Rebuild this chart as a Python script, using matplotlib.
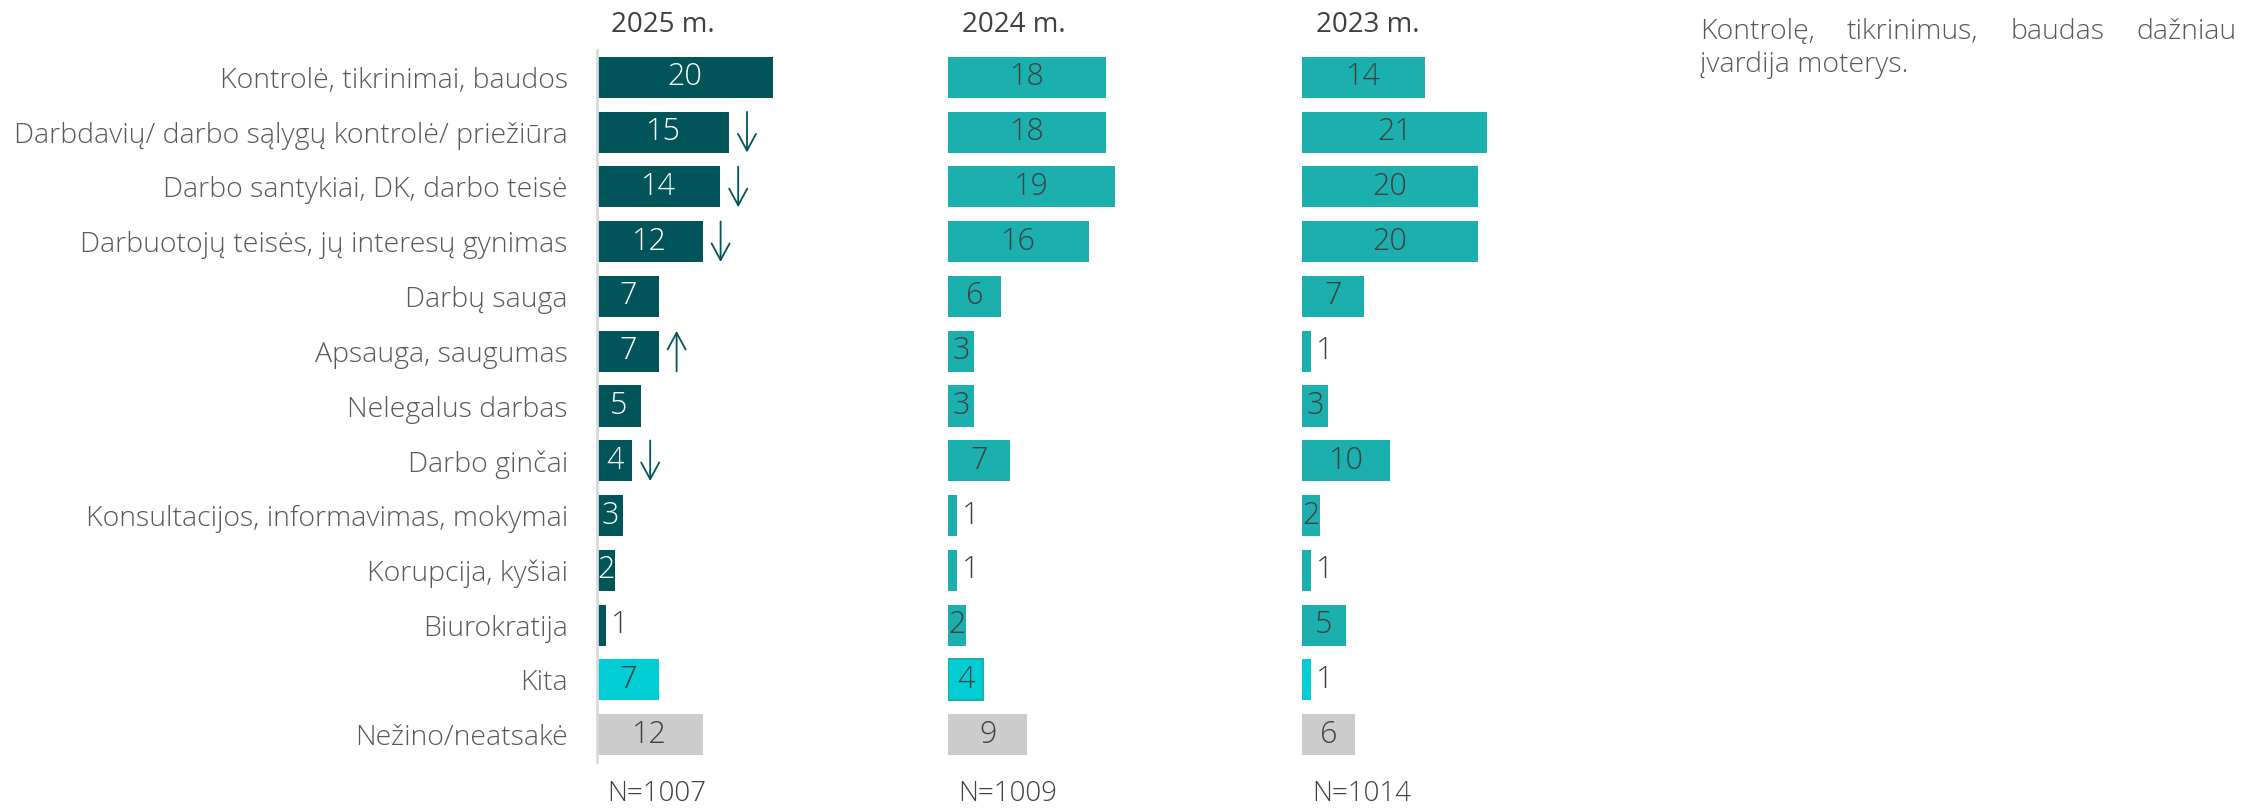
import matplotlib
matplotlib.use("Agg")
import matplotlib.pyplot as plt
import matplotlib.transforms as mtransforms
from matplotlib import font_manager as fm

categories = [
    "Kontrolė, tikrinimai, baudos",
    "Darbdavių/ darbo sąlygų kontrolė/ priežiūra",
    "Darbo santykiai, DK, darbo teisė",
    "Darbuotojų teisės, jų interesų gynimas",
    "Darbų sauga",
    "Apsauga, saugumas",
    "Nelegalus darbas",
    "Darbo ginčai",
    "Konsultacijos, informavimas, mokymai",
    "Korupcija, kyšiai",
    "Biurokratija",
    "Kita",
    "Nežino/neatsakė",
]
years = ["2025 m.", "2024 m.", "2023 m."]
sample_sizes = ["N=1007", "N=1009", "N=1014"]
values_2025 = [20, 15, 14, 12, 7, 7, 5, 4, 3, 2, 1, 7, 12]
values_2024 = [18, 18, 19, 16, 6, 3, 3, 7, 1, 1, 2, 4, 9]
values_2023 = [14, 21, 20, 20, 7, 1, 3, 10, 2, 1, 5, 1, 6]
trend_2025 = [None, "down", "down", "down", None, "up", None, "down", None, None, None, None, None]
note_line1 = ["Kontrolę,", "tikrinimus,", "baudas", "dažniau"]
note_line2 = "įvardija moterys."


def pick_font():
    prefs = ["Open Sans", "Lato", "Noto Sans", "Roboto", "Inter"]
    names = {}
    for f in fm.fontManager.ttflist:
        names.setdefault(f.name, []).append(f.weight)
    for p in prefs:
        for w in names.get(p, []):
            if (isinstance(w, int) and w <= 300) or w in ("light", "extra light", "ultralight"):
                return p, "light"
    return "Open Sans", "normal"


FONT, WEIGHT = pick_font()
plt.rcParams["font.family"] = [FONT, "DejaVu Sans"]
plt.rcParams["font.weight"] = WEIGHT

W, H = 2244, 809
DPI = 100
fig = plt.figure(figsize=(W / DPI, H / DPI), dpi=DPI)

PX_PER_UNIT = 8.8
top_px, bot_px = 50, 762
panel_left = [597, 948, 1302]
panel_w = 320

dark = "#00545A"
teal = "#1BB0AE"
cyan = "#00CED4"
grey = "#CCCCCC"
text_dark = "#404040"
label_col = "#595959"

LABEL_FS = 20.5
VALUE_FS = 22

series = [values_2025, values_2024, values_2023]
n = len(categories)
axes = []
for k, vals in enumerate(series):
    ax = fig.add_axes([panel_left[k] / W, (H - bot_px) / H, panel_w / W, (bot_px - top_px) / H])
    ax.set_xlim(0, panel_w / PX_PER_UNIT)
    ax.set_ylim(n - 0.5, -0.5)
    base = dark if k == 0 else teal
    cols = [base] * (n - 2) + [cyan, grey]
    edges = ["none"] * (n - 2) + ([teal] if k == 1 else ["none"]) + ["none"]
    ys = list(range(n))
    ax.barh(ys, vals, height=0.75, color=cols, edgecolor=edges, linewidth=1.5 if k == 1 else 0)
    for i, v in enumerate(vals):
        if v >= 2:
            tc = "white" if cols[i] == dark else text_dark
            ax.text(v / 2, i, str(v), ha="center", va="center", fontsize=VALUE_FS, color=tc)
        else:
            ax.annotate(str(v), (v, i), xytext=(4, 0), textcoords="offset points",
                        ha="left", va="center", fontsize=VALUE_FS, color=text_dark)
    for s in ax.spines.values():
        s.set_visible(False)
    ax.set_xticks([])
    if k == 0:
        ax.spines["left"].set_visible(True)
        ax.spines["left"].set_color("#D9D9D9")
        ax.spines["left"].set_linewidth(2)
        ax.set_yticks(ys)
        ax.set_yticklabels(categories, fontsize=LABEL_FS, color=label_col)
        ax.tick_params(axis="y", length=0, pad=21)
        off = ax.transData + mtransforms.ScaledTranslation(18 / DPI, 0, fig.dpi_scale_trans)
        for i, t in enumerate(trend_2025):
            if t is None:
                continue
            x = vals[i]
            y0, y1 = (i - 0.37, i + 0.37) if t == "down" else (i + 0.37, i - 0.37)
            ax.annotate("", xy=(x, y1), xytext=(x, y0), xycoords=off, textcoords=off,
                        arrowprops=dict(arrowstyle="->,head_length=1.2,head_width=0.65",
                                        color=dark, lw=1.3, shrinkA=0, shrinkB=0))
    else:
        ax.set_yticks([])
    axes.append(ax)

for k in range(3):
    fig.text((panel_left[k] + 14) / W, 1 - 25 / H, years[k], ha="left", va="center",
             fontsize=20, color=text_dark, fontweight="normal")
    fig.text((panel_left[k] + 10) / W, 1 - 794 / H, sample_sizes[k], ha="left", va="center",
             fontsize=20, color=text_dark)

# justified note text
fig.canvas.draw()
r = fig.canvas.get_renderer()
left_px, right_px = 1700, 2237
NOTE_FS = 20.5
widths = []
for wd in note_line1:
    t = fig.text(0, 0, wd, fontsize=NOTE_FS)
    widths.append(t.get_window_extent(r).width)
    t.remove()
gap = (right_px - left_px - sum(widths)) / (len(note_line1) - 1)
x = left_px
for wd, w in zip(note_line1, widths):
    fig.text(x / W, 1 - 32 / H, wd, ha="left", va="center", fontsize=NOTE_FS, color=label_col)
    x += w + gap
fig.text(left_px / W, 1 - 65 / H, note_line2, ha="left", va="center", fontsize=NOTE_FS, color=label_col)

fig.savefig("out.png", dpi=DPI)
